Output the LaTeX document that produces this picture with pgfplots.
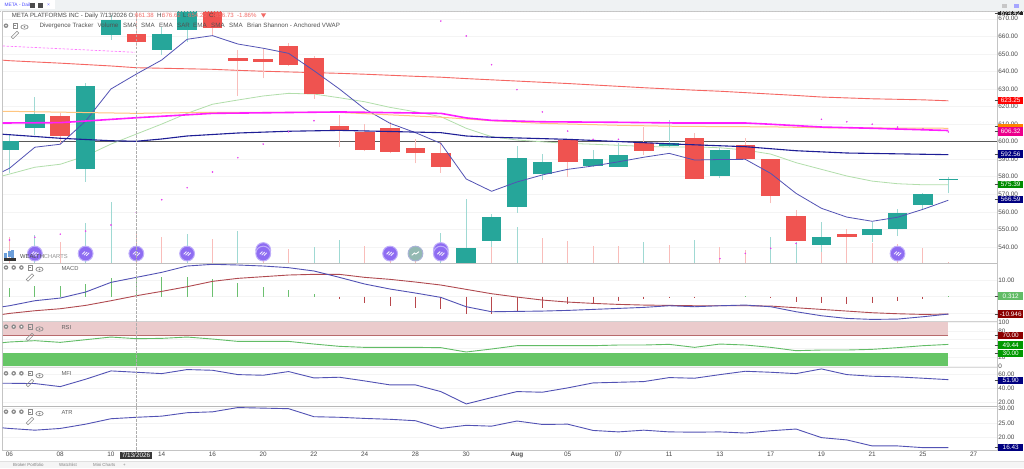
\documentclass[border=0pt]{standalone}
\usepackage{pgfplots}
\usepackage{pgfplotstable}
\usepackage{fontspec}
\setmainfont{Liberation Sans}
\pgfplotsset{compat=1.18}
\usetikzlibrary{calc}
\definecolor{upc}{HTML}{26A69A}
\definecolor{dnc}{HTML}{EF5350}
\definecolor{upw}{HTML}{9FD9D3}
\definecolor{dnw}{HTML}{F9BDBA}
\definecolor{emablue}{HTML}{5252B4}
\definecolor{smagreen}{HTML}{B2DEAB}
\definecolor{smared}{HTML}{F56662}
\definecolor{orangel}{HTML}{FFC680}
\definecolor{magl}{HTML}{FF1EFF}
\definecolor{navyl}{HTML}{1E1E96}
\definecolor{sard}{HTML}{E83CF0}
\definecolor{gridc}{HTML}{F4F4F4}
\definecolor{framec}{HTML}{C4C4C4}
\definecolor{tickt}{HTML}{4A4A4A}
\definecolor{sigred}{HTML}{B04A50}
\definecolor{histg}{HTML}{6CC070}
\definecolor{histr}{HTML}{B8474C}
\definecolor{rsiz}{HTML}{EBCBCC}
\definecolor{rsil}{HTML}{B86A6C}
\definecolor{rsig}{HTML}{66C666}
\definecolor{rsiline}{HTML}{62BC66}
\definecolor{purp}{HTML}{8E6CF2}
\definecolor{purpb}{HTML}{BFAEFA}
\definecolor{tealic}{HTML}{93B9B2}
\definecolor{barbg}{HTML}{EFF2F3}
\definecolor{botbg}{HTML}{F5F5F5}
\definecolor{iconc}{HTML}{8A8A8A}
\definecolor{hred}{HTML}{F26B66}
\pgfdeclareplotmark{linkglyph}{%
  \pgfsetlinewidth{0.9pt}\pgfsetroundcap
  \pgfpathmoveto{\pgfqpoint{-3.4pt}{-0.6pt}}\pgfpathlineto{\pgfqpoint{-0.9pt}{1.9pt}}
  \pgfpathmoveto{\pgfqpoint{0.9pt}{-1.9pt}}\pgfpathlineto{\pgfqpoint{3.4pt}{0.6pt}}
  \pgfpathmoveto{\pgfqpoint{-1.4pt}{-1.4pt}}\pgfpathlineto{\pgfqpoint{1.4pt}{1.4pt}}
  \pgfusepathqstroke}
\pgfdeclareplotmark{arrowglyph}{%
  \pgfsetlinewidth{0.9pt}\pgfsetroundcap
  \pgfpathmoveto{\pgfqpoint{-3.6pt}{-1.6pt}}\pgfpathlineto{\pgfqpoint{-1pt}{0.6pt}}
  \pgfpathlineto{\pgfqpoint{0.4pt}{-0.4pt}}\pgfpathlineto{\pgfqpoint{3.4pt}{1.8pt}}
  \pgfusepathqstroke}
\newcommand{\tfont}{\fontsize{6.4}{7.5}\selectfont}
\pgfplotsset{
  panel/.style={scale only axis, width=994.3pt, xmin=-0.268, xmax=38.92,
    anchor=north west, axis line style={draw=framec,line width=0.6pt},
    ymajorgrids, grid style={draw=gridc,line width=0.5pt},
    xtick=\empty, ytick pos=right, yticklabel pos=right,
    major tick length=0pt, tick style={draw=none},
    yticklabel style={/pgf/number format/fixed, /pgf/number format/fixed zerofill,
      /pgf/number format/precision=2, /pgf/number format/1000 sep={},
      /pgf/number format/assume math mode=true,
      font=\tfont, text=tickt, inner sep=0pt, anchor=west, xshift=1.2pt},
    every axis plot/.append style={forget plot}},
  wick/.style={only marks, mark size=0pt, mark options={draw opacity=0,fill opacity=0},
    error bars/.cd, y dir=plus, y explicit, error mark=none,
    error bar style={line width=0.9pt, color=#1}},
  body/.style={only marks, mark size=0pt, mark options={draw opacity=0,fill opacity=0},
    error bars/.cd, y dir=plus, y explicit, error mark=none,
    error bar style={line width=19.6pt, color=#1}}
}
% price: i open high low close
\pgfplotstableread{
i o h l c
0 595.2 603.8 582.1 600.3
1 607.8 625.6 603.8 615.7
3 584.2 633.2 577.1 631.7
4 660.8 672 657.9 669.3
6 652.2 665.3 649.4 661.2
7 663.6 680 656.9 680
18 528 567.3 528 539.2
19 543.5 558.6 540.1 556.9
20 562.6 597.5 559.5 590.5
21 581.4 592.9 578.1 588.4
23 586.1 595.2 585.8 590.1
24 585.7 599.2 585.5 592.4
26 597.7 612.3 596.9 599.4
28 580.4 596.2 579.4 595.2
32 541.1 554 537.3 545.8
34 546.6 554.4 543 550.2
35 550.4 561.4 546.2 559.1
36 564 570.9 561.4 570.3
37 578.2 579.8 570.5 578.8
}\upT
\pgfplotstableread{
i o h l c
2 614.6 616.3 598.6 603.2
5 661.38 676.62 654.2 656.73
8 680 680 660.8 664.6
9 647.8 652.2 626 646.1
10 646.9 652.6 636.1 645.5
11 654.5 656 643.1 643.8
12 647.8 649 624.3 627.1
13 608.9 615.2 597.1 606.6
14 605.6 610 594.6 595.2
15 607.6 611.3 593.3 594.1
16 596.2 601.3 587.6 593.3
17 593.3 599.9 582.3 585.7
22 600.9 601.2 580 588.5
25 599 608.5 592.4 594.8
27 601.9 604.7 578.5 578.9
29 597.9 601.9 589.8 589.9
30 589.9 590.1 564.8 569
31 557.6 561 543.1 543.5
33 547.2 550 539.2 545.6
}\dnT
% moving averages at each session
\pgfplotstableread{
i ema sma red
-0.268 582.9 580.5 646.4
0 584.8 581.5 646.1
1 596.8 585.4 645.4
2 598.5 587.1 644.7
3 611.7 591.8 643.9
4 630 598.6 643.1
5 638.5 604.3 642.1
6 646.5 610 641.8
7 658.3 616.1 641.5
8 660.4 621.3 641.2
9 655.6 623.7 640.6
10 653.2 626 640.1
11 650.3 627.5 639.7
12 640.4 627.1 639.3
13 630 625 638.9
14 618.6 622.7 638.4
15 610.4 619.5 637.8
16 605.1 617 637.2
17 599 614.2 636.7
18 578.7 607.6 635.9
19 571.7 602.8 635.2
20 577 600.9 634.5
21 581 599.9 633.8
22 584.2 599 633.1
23 586.1 598.5 632.3
24 588.5 597.9 631.5
25 591.1 597.3 630.7
26 593.3 596.9 630
27 589.5 597 629.3
28 589.8 596.5 628.7
29 589.9 595.2 627.9
30 581.9 592.9 627.1
31 570.5 588 626.3
32 562 584.2 625.4
33 557 580.4 624.9
34 554.6 577.5 624.4
35 556.9 576 624.1
36 561.4 575.4 623.8
37 566.59 575.39 623.25
}\maT
\pgfplotstableread{
i v
-0.268 617.3
5 616.1
8 616.7
13 616.6
17 613.9
19 611.9
21 610.4
24 609.3
26.3 608.7
30 608.4
32 607.9
37 607.6
}\orT
\pgfplotstableread{
i v
-0.268 610.6
2 610.8
5 613.6
8 616.1
13 616.9
17 616.1
18 613.5
19 612.1
21 611.3
24 611
26.3 610.6
29 610.6
30 609.9
32 608.3
34 607.6
37 606.32
}\mgT
\pgfplotstableread{
i v
-0.268 604.2
2 601.9
4 600.5
5 600.2
6 601.5
7 603.2
9 604.9
11 605.9
13 606.4
17 605.1
18 603.2
19 602.5
22 601.3
25 599.4
26.4 598.5
29 597.1
31 594.8
33 593.5
37 592.56
}\nvT
\pgfplotstableread{
i v
0 543.9
1 545.5
2 547.3
3 549
4 552.5
5 559.7
6 566.9
7 573.7
8 582.7
9 590.8
10 598.6
11 605.6
12 611.9
17 668.7
18 660.2
19 643.8
20 629.6
21 616.9
22 606
23 601.3
24 601.3
28 533.3
29 536.3
30 539.2
31 542
32 612.7
33 611.3
34 609.9
35 608.3
36 607.2
37 605.5
}\sarT
% volume
\pgfplotstableread{
i v
1 14
3 20
4 30.5
7 14.5
9 15.8
12 8
13 11.5
17 15.2
18 7
20 18
25 10.5
27 11.5
30 12.8
31 10.5
}\volUp
\pgfplotstableread{
i v
0 13
2 10.5
5 15
6 12.8
8 11.8
10 9.5
11 7
14 8.5
15 6
16 6
19 10.5
21 12.5
22 11
23 8.5
24 8.5
26 9
28 8
29 6.5
32 5.3
33 10
34 9.8
35 9.5
36 7.5
37 0.5
}\volDn
% MACD
\pgfplotstableread{
i m s
-0.268 -6 -10.6
0 -5.4 -10
1 -2.4 -8.4
2 -0.8 -7.2
3 2.8 -5.2
4 8.6 -2.4
5 11.6 0.6
6 14.6 3.2
7 18.4 6
8 19.4 9.2
9 19 11
10 18.4 12
11 17.4 13
12 15.4 13.4
13 11.6 13.4
14 7.6 11.6
15 4.6 10.4
16 2.2 8.8
17 -0.4 7
18 -6 4.4
19 -9 1.8
20 -8.8 -0.2
21 -8.6 -2
22 -8.2 -3.2
23 -7.6 -4
24 -7 -4.6
25 -6.4 -5
26 -5.4 -5.2
27 -6 -5.4
28 -5.4 -5.4
29 -5 -5.4
30 -6 -5.6
31 -9 -6.6
32 -11.4 -7.6
33 -13 -8.6
34 -13.6 -9.6
35 -13.4 -10.2
36 -12 -10.6
37 -10.4 -10.4
}\macdT
\pgfplotstableread{
i v
0 5
1 6.4
2 6.6
3 7.8
4 11
5 12
6 11.6
7 11.8
8 10.6
9 8
10 6
11 4
12 1.6
29 0.4
37 0.312
}\hGr
\pgfplotstableread{
i v
13 -1.4
14 -4
15 -5.4
16 -6.6
17 -7.2
18 -10.4
19 -10.6
20 -9
21 -6.6
22 -4.6
23 -4
24 -2.4
25 -1.2
26 -0.4
27 -0.4
30 -0.6
31 -3.2
32 -4
33 -4.4
34 -4
35 -2.8
36 -1.2
}\hRd
% RSI, MFI, ATR
\pgfplotstableread{
i r m a
-0.268 53.4 46.8 23.3
0 54.9 46.8 23.1
1 57.9 46.4 22.5
2 54.1 42.1 23.1
3 60.1 52.5 24.6
4 66.1 64.2 26.5
5 62.4 62.3 27
6 63.1 60.4 27.4
7 66.1 66.1 28.6
8 61.6 65.1 28.9
9 56.3 59 30.4
10 56.3 58.1 30.2
11 56.3 63.3 30
12 50.3 54.3 27.2
13 45.1 55.3 27
14 42.8 50.1 26.6
15 42.8 44.5 26.3
16 42.8 44.5 25.8
17 42.1 35.1 23.1
18 32.3 17.7 24.2
19 39.1 26.6 23.9
20 46.6 35.1 25.7
21 46.6 34.2 24.5
22 46.6 40.3 24.6
23 46.6 47.3 22.4
24 48.1 48.2 21.9
25 48.1 49.2 22.5
26 49.6 54.8 21.9
27 42.8 53.9 21.8
28 50.3 59 21.9
29 48.1 63.7 21.5
30 42.8 62.3 22.3
31 35.3 60.4 22.9
32 36.8 67 19.9
33 36.8 59 19.1
34 38.3 56.7 17
35 42.1 55.8 17
36 46.6 53.9 16.4
37 49.44 51.9 16.43
}\oscT
\newcommand{\icons}[5]{% circles, y circles, y eye, y pencil, x box
  \foreach \cx in {#1}{\fill[iconc] (\cx pt,-#2 pt) circle (2.3pt); \fill[white] (\cx pt,-#2 pt) circle (0.9pt);}
  \draw[iconc,line width=0.4pt] (#5pt-2.2pt,-#2pt-2.2pt) rectangle (#5pt+2.2pt,-#2pt+2.2pt);
  \draw[iconc,line width=0.4pt] (#5pt-1.1pt,-#2pt) -- (#5pt+1.1pt,-#2pt);
  \draw[iconc,line width=0.7pt] (#5pt+9.5pt,-#3pt) ellipse (3.6pt and 2.2pt);
  \fill[iconc] (#5pt+9.5pt,-#3pt) circle (1pt);
  \draw[iconc,line width=0.5pt,rotate around={45:(#5pt,-#4pt)}] (#5pt-4pt,-#4pt-1.3pt) rectangle (#5pt+4pt,-#4pt+1.3pt);
}
\newcommand{\vlab}[4][7.2]{%
  \draw[tickt,line width=0.5pt] (994.5pt,-#2pt) -- (998pt,-#2pt);
  \node[fill=#3,text=white,minimum width=25.5pt,minimum height=#1pt,inner sep=0pt,font=\tfont] at (1010.7pt,-#2pt) {#4};}
\newcommand{\hh}[3]{\node[anchor=base west,inner sep=0pt,text=#3,font=\fontsize{6.1}{8}\selectfont] at (#1pt,-17.4pt) {#2};}
\newcommand{\lgd}[2]{\node[anchor=base west,inner sep=0pt,text=black!68,font=\fontsize{6.2}{8}\selectfont] at (#1pt,-27.7pt) {#2};}
\begin{document}
\begin{tikzpicture}
\path[use as bounding box,fill=white] (0pt,0pt) rectangle (1024pt,-468pt);
% ---------- price panel
\begin{axis}[panel, at={(2.7pt,-11pt)}, height=252pt, ymin=530.83, ymax=674.42,
  ytick={540,550,...,670}]
\addplot[line width=0.9pt,color=black!65] coordinates {(-0.268,600)(38.92,600)};
\end{axis}
% volume, on its own scale in the same frame
\begin{axis}[scale only axis, width=994.3pt, height=252pt, at={(2.7pt,-11pt)}, anchor=north west,
  xmin=-0.268, xmax=38.92, ymin=0, ymax=126, axis lines=none,
  every axis plot/.append style={forget plot}]
\addplot[ycomb,color=upw,line width=0.9pt] table[x=i,y=v] {\volUp};
\addplot[ycomb,color=dnw,line width=0.9pt] table[x=i,y=v] {\volDn};
\end{axis}
\begin{axis}[scale only axis, width=994.3pt, height=252pt, at={(2.7pt,-11pt)}, anchor=north west,
  xmin=-0.268, xmax=38.92, ymin=530.83, ymax=674.42, axis lines=none,
  every axis plot/.append style={forget plot}]
\addplot[line width=0.7pt,color=magl!60,dash pattern=on 2.5pt off 1.5pt] coordinates {(-0.268,654.5)(4.95,650.9)};
\addplot[smared,line width=0.9pt] table[x=i,y=red] {\maT};
\addplot[smagreen,line width=0.8pt] table[x=i,y=sma] {\maT};
\addplot[wick=upw] table[x=i,y=l,y error expr=\thisrow{h}-\thisrow{l}] {\upT};
\addplot[wick=dnw] table[x=i,y=l,y error expr=\thisrow{h}-\thisrow{l}] {\dnT};
\addplot[body=upc] table[x=i,y=o,y error expr=\thisrow{c}-\thisrow{o}] {\upT};
\addplot[body=dnc] table[x=i,y=c,y error expr=\thisrow{o}-\thisrow{c}] {\dnT};
\addplot[emablue,line width=0.8pt] table[x=i,y=ema] {\maT};
\addplot[orangel,line width=1pt] table[x=i,y=v] {\orT};
\addplot[magl,line width=1.6pt] table[x=i,y=v] {\mgT};
\addplot[navyl,line width=1.1pt] table[x=i,y=v] {\nvT};
\addplot[only marks,mark=*,mark size=0.55pt,color=sard] table[x=i,y=v] {\sarT};
\addplot[only marks,mark=*,mark size=7.4pt,mark options={fill=purp,draw=purpb,line width=1pt}] coordinates {(10,538.2)(17,538.2)};
\addplot[only marks,mark=*,mark size=7.4pt,mark options={fill=purp,draw=purpb,line width=1pt}] coordinates {(1,536.2)(3,536.2)(5,536.2)(7,536.2)(10,536.2)(15,536.2)(17,536.2)(35,536.2)};
\addplot[only marks,mark=linkglyph,color=white!88!purp] coordinates {(1,536.2)(3,536.2)(5,536.2)(7,536.2)(10,536.2)(15,536.2)(17,536.2)(35,536.2)};
\addplot[only marks,mark=*,mark size=7.4pt,mark options={fill=tealic,draw=purpb!50!tealic,line width=1pt}] coordinates {(16,536.2)};
\addplot[only marks,mark=arrowglyph,color=white] coordinates {(16,536.2)};
\end{axis}
% ---------- MACD
\begin{axis}[panel, at={(2.7pt,-263pt)}, height=58pt, ymin=-14.55, ymax=20.2,
  ytick={-10,0,10}, yticklabels={,,10.00}]
\addplot[ycomb,color=histg,line width=0.9pt] table[x=i,y=v] {\hGr};
\addplot[ycomb,color=histr,line width=0.9pt] table[x=i,y=v] {\hRd};
\addplot[sigred,line width=0.9pt] table[x=i,y=s] {\macdT};
\addplot[emablue,line width=0.9pt] table[x=i,y=m] {\macdT};
\end{axis}
% ---------- RSI
\begin{axis}[panel, at={(2.7pt,-321.5pt)}, height=46pt, ymin=-2.7, ymax=101.2,
  ytick={0,20,40,60,80,100}, yticklabels={0,20,,,80,100}]
\addplot[fill=rsiz,draw=none] coordinates {(-0.268,70)(37,70)(37,100)(-0.268,100)} --cycle;
\addplot[rsil,line width=0.9pt] coordinates {(-0.268,70)(37,70)};
\addplot[fill=rsig,draw=none] coordinates {(-0.268,0)(37,0)(37,30)(-0.268,30)} --cycle;
\addplot[rsiline,line width=0.9pt] table[x=i,y=r] {\oscT};
\end{axis}
% ---------- MFI
\begin{axis}[panel, at={(2.7pt,-367.5pt)}, height=38.5pt, ymin=14.8, ymax=69,
  ytick={20,40,60}]
\addplot[emablue,line width=0.9pt] table[x=i,y=m] {\oscT};
\end{axis}
% ---------- ATR
\begin{axis}[panel, at={(2.7pt,-406pt)}, height=44.7pt, ymin=15.33, ymax=30.94,
  ytick={20,25,30}, xtick={0,2,...,38},
  xticklabels={06,08,10,14,16,20,22,24,28,30,\textbf{Aug},05,07,11,13,17,19,21,25,27},
  xticklabel style={font=\tfont,text=tickt,inner sep=0pt,yshift=-1.3pt}]
\addplot[emablue,line width=0.9pt] table[x=i,y=a] {\oscT};
\end{axis}
% ---------- separators and crosshair
\draw[black!18,line width=1.6pt] (2.7pt,-321.3pt) -- (997pt,-321.3pt);
\draw[black!14,line width=1.2pt] (2.7pt,-367.3pt) -- (997pt,-367.3pt);
\draw[black!28,line width=1pt] (2.7pt,-406pt) -- (997pt,-406pt);
\draw[black!25,line width=0.7pt] (2.7pt,-263pt) -- (997pt,-263pt);
\draw[black!32,line width=0.7pt,dash pattern=on 2.5pt off 1.5pt] (136pt,-11pt) -- (136pt,-452pt);
% ---------- right value tags
\vlab[5]{13}{black!85}{674.42}
\vlab{100.3}{red}{623.25}
\vlab[5]{126.5}{orange}{}
\vlab[9]{131}{magenta}{606.32}
\vlab{154}{blue!50!black}{592.56}
\vlab{184.3}{green!55!black}{575.39}
\vlab{199.3}{blue!50!black}{566.59}
\vlab{296}{rsiline}{0.312}
\vlab{314}{red!55!black}{-10.946}
\vlab{335.6}{red!55!black}{70.00}
\vlab{345}{green!60!black}{49.44}
\vlab{353.4}{green!60!black}{30.00}
\vlab{380.3}{blue!50!black}{51.90}
\vlab{447.7}{blue!50!black}{16.43}
% ---------- top and bottom bars
\fill[barbg] (0pt,0pt) rectangle (1024pt,-10.6pt);
\draw[black!22,line width=0.5pt,dash pattern=on 1pt off 0.5pt] (0pt,-10.8pt) -- (1024pt,-10.8pt);
\fill[white] (0pt,0pt) rectangle (55pt,-9.5pt);
\node[anchor=base west,inner sep=0pt,text=blue!70!white,font=\fontsize{4.8}{5}\selectfont] at (4.5pt,-7pt) {META - Daily};
\fill[black!70] (30pt,-2.8pt) rectangle (35pt,-7.6pt);
\fill[black!70] (38pt,-2.8pt) rectangle (43.2pt,-7.6pt);
\node[text=blue!60!white,inner sep=0pt,font=\fontsize{5}{5}\selectfont] at (48.5pt,-5.2pt) {×};
\fill[black!22] (1002pt,-3.8pt) rectangle (1007pt,-7.6pt);
\fill[blue!35] (1013.5pt,-3.8pt) rectangle (1018.5pt,-7.6pt);
\fill[botbg] (0pt,-460.8pt) rectangle (1024pt,-468pt);
\draw[black!12,line width=0.4pt] (0pt,-460.8pt) -- (1024pt,-460.8pt);
\node[anchor=base west,inner sep=0pt,text=black!50,font=\fontsize{4.4}{5}\selectfont] at (13pt,-466.8pt) {Broker Portfolio};
\node[anchor=base west,inner sep=0pt,text=black!50,font=\fontsize{4.4}{5}\selectfont] at (59pt,-466.8pt) {Watchlist};
\node[anchor=base west,inner sep=0pt,text=black!50,font=\fontsize{4.4}{5}\selectfont] at (93pt,-466.8pt) {Mini Charts};
\node[anchor=base west,inner sep=0pt,text=black!50,font=\fontsize{4.4}{5}\selectfont] at (123pt,-466.8pt) {+};
% crosshair date tag
\node[fill=black!78,text=white,inner sep=0pt,minimum width=32pt,minimum height=7.5pt,font=\tfont] at (136pt,-455.3pt) {7/13/2026};
% ---------- header
\hh{11.7}{META PLATFORMS INC - Daily 7/13/2026 O:}{black!72}
\hh{135}{661.38}{hred}\hh{157}{H:}{black!72}\hh{162}{676.62}{hred}
\hh{183}{L:}{black!72}\hh{188}{654.20}{hred}\hh{209}{C:}{black!72}\hh{215}{656.73}{hred}
\hh{237}{-1.86\%}{hred}
\fill[hred] (261pt,-13.5pt) -- (266pt,-13.5pt) -- (263.5pt,-17.6pt) -- cycle;
\lgd{39.3}{Divergence Tracker}\lgd{97.5}{Volume}\lgd{123}{SMA}\lgd{141}{SMA}\lgd{159}{EMA}
\lgd{177}{SAR}\lgd{193}{EMA}\lgd{211}{SMA}\lgd{229}{SMA}\lgd{247}{Brian Shannon - Anchored VWAP}
\icons{6}{25.7}{27}{35}{15}
\icons{6,13.7,21.4}{267.5}{269.3}{277.5}{30}
\icons{6,13.7,21.4}{326.7}{329}{337}{30}
\icons{6,13.7,21.4}{373.3}{375.7}{383}{30}
\icons{6,13.7,21.4}{411.7}{413.5}{421}{30}
\node[anchor=base west,inner sep=0pt,text=black!62,font=\fontsize{5.8}{7}\selectfont] at (61.3pt,-270.2pt) {MACD};
\node[anchor=base west,inner sep=0pt,text=black!62,font=\fontsize{5.8}{7}\selectfont] at (61.3pt,-329pt) {RSI};
\node[anchor=base west,inner sep=0pt,text=black!62,font=\fontsize{5.8}{7}\selectfont] at (61.3pt,-375.6pt) {MFI};
\node[anchor=base west,inner sep=0pt,text=black!62,font=\fontsize{5.8}{7}\selectfont] at (61.3pt,-414pt) {ATR};
% ---------- logo
\fill[cyan!55!blue!60] (4.2pt,-252.5pt) rectangle (7pt,-258pt);
\fill[cyan!55!blue!60] (7.8pt,-250.5pt) rectangle (10.6pt,-257pt);
\fill[cyan!55!blue!60] (11.4pt,-249.8pt) rectangle (14.2pt,-258pt);
\fill[black!80] (4.2pt,-258.3pt) rectangle (16.4pt,-260.8pt);
\node[anchor=base west,inner sep=0pt,font=\fontsize{5.8}{7}\selectfont] at (20pt,-258.5pt) {\textcolor{black!70}{WEALTH}\textcolor{black!42}{CHARTS}};
\end{tikzpicture}
\end{document}
